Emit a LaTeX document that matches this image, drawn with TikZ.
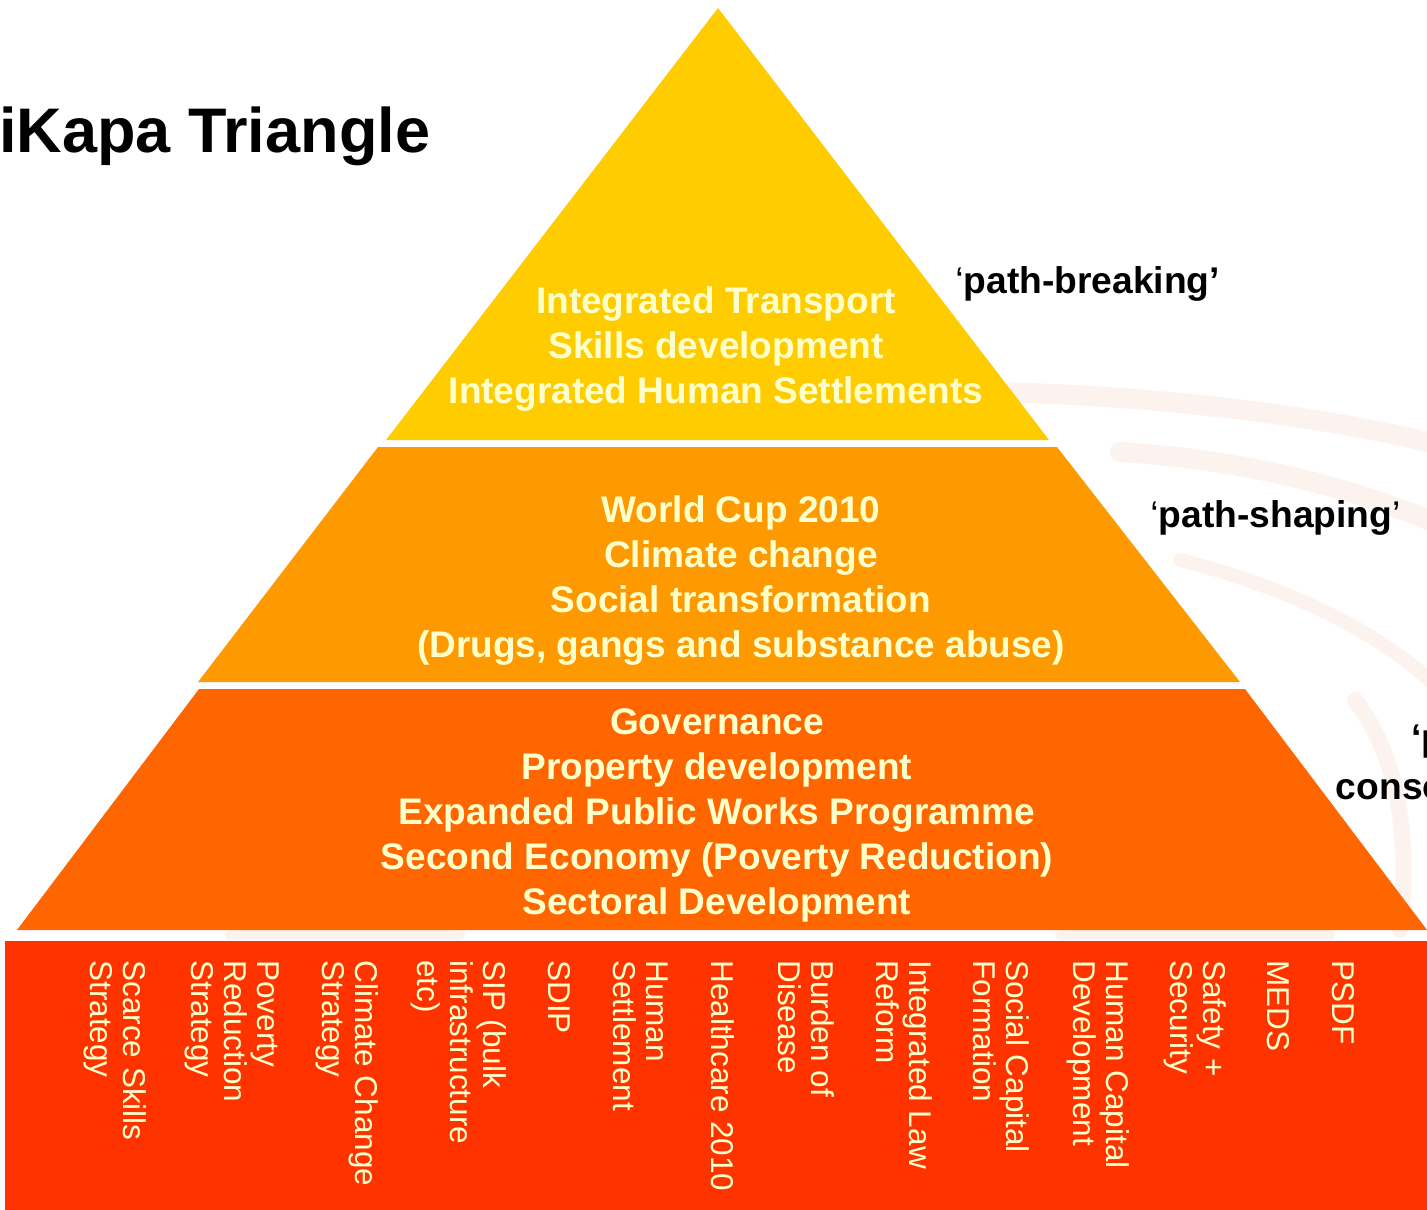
\documentclass[tikz,border=0pt]{standalone}
\usepackage{fontspec}
\setmainfont{Liberation Sans}
\definecolor{tierTop}{HTML}{FFCC00}
\definecolor{tierMid}{HTML}{FF9900}
\definecolor{tierLow}{HTML}{FF6600}
\definecolor{baseBar}{HTML}{FF3300}
\definecolor{cream}{HTML}{FFFFCC}
\definecolor{swirl}{HTML}{FCF3EF}
\tikzset{
  tiertext/.style={text=cream, align=center, inner sep=0pt,
    font=\bfseries\fontsize{18.5}{22.5}\selectfont},
  sidelabel/.style={text=black, inner sep=0pt,
    font=\bfseries\fontsize{18.6}{24}\selectfont},
  barlabel/.style={text=cream, rotate=-90, anchor=west, align=left, inner sep=0pt,
    font=\fontsize{15.75}{16.5}\selectfont},
  swirlband/.style={swirl, line width=10pt, line cap=round}
}
\begin{document}
\begin{tikzpicture}[x=0.5pt,y=-0.5pt]
\useasboundingbox (0,0) rectangle (1427,1209);
\clip (0,0) rectangle (1427,1209);
\fill[white] (0,0) rectangle (1427,1209);
% faint background swirl
\draw[swirlband] (990,392) .. controls (1150,395) and (1320,415) .. (1440,445);
\draw[swirlband] (1120,452) .. controls (1250,460) and (1360,490) .. (1440,525);
\draw[swirlband, line width=7pt] (1180,560) .. controls (1300,590) and (1390,640) .. (1440,690);
\draw[swirlband, line width=8pt] (1355,700) .. controls (1400,760) and (1410,840) .. (1400,930);
\draw[swirlband, line width=5pt] (230,935) -- (460,935);
\draw[swirlband, line width=5pt] (1060,935) -- (1330,935);
% pyramid tiers
\fill[tierTop] (718,8) -- (1049,440) -- (386,440) -- cycle;
\fill[tierMid] (378,447) -- (1057,447) -- (1240,682) -- (198,682) -- cycle;
\fill[tierLow] (199,689) -- (1245,689) -- (1427,930) -- (17,930) -- cycle;
\fill[baseBar] (5,941) rectangle (1430,1212);
% title
\node[anchor=base west, inner sep=0pt, font=\bfseries\fontsize{31.5}{36}\selectfont] (title) at (-1,153) {iKapa Triangle};
% tier texts
\node[tiertext] (tTop) at (716,349) {Integrated Transport\\Skills development\\Integrated Human Settlements};
\node[tiertext] (tMid) at (741,581) {World Cup 2010\\Climate change\\Social transformation\\(Drugs, gangs and substance abuse)};
\node[tiertext] (tLow) at (717,815) {Governance\\Property development\\Expanded Public Works Programme\\Second Economy (Poverty Reduction)\\Sectoral Development};
% side labels
\node[sidelabel, anchor=base west] (lbreak) at (955,293) {{\mdseries ‘}path-breaking’};
\node[sidelabel, anchor=base west] (lshape) at (1150,527) {{\mdseries ‘}path-shaping{\mdseries ’}};
\node[sidelabel, anchor=base] (lcons1) at (1462,750) {‘path-};
\node[sidelabel, anchor=base] (lcons2) at (1462,799) {consolidating’};
% base bar labels
\node[barlabel] (b1) at (115,960) {Scarce Skills\\Strategy};
\node[barlabel] (b2) at (232,960) {Poverty\\Reduction\\Strategy};
\node[barlabel] (b3) at (347,960) {Climate Change\\Strategy};
\node[barlabel] (b4) at (459,960) {SIP (bulk\\infrastructure\\etc)};
\node[barlabel] (b5) at (559,960) {SDIP};
\node[barlabel] (b6) at (641,960) {Human\\Settlement};
\node[barlabel] (b7) at (723,960) {Healthcare 2010};
\node[barlabel] (b8) at (806,960) {Burden of\\Disease};
\node[barlabel] (b9) at (904,960) {Integrated Law\\Reform};
\node[barlabel] (b10) at (1001,960) {Social Capital\\Formation};
\node[barlabel] (b11) at (1098,960) {Human Capital\\Development};
\node[barlabel] (b12) at (1195,960) {Safety +\\Security};
\node[barlabel] (b13) at (1278,960) {MEDS};
\node[barlabel] (b14) at (1343,960) {PSDF};
\end{tikzpicture}
\end{document}
